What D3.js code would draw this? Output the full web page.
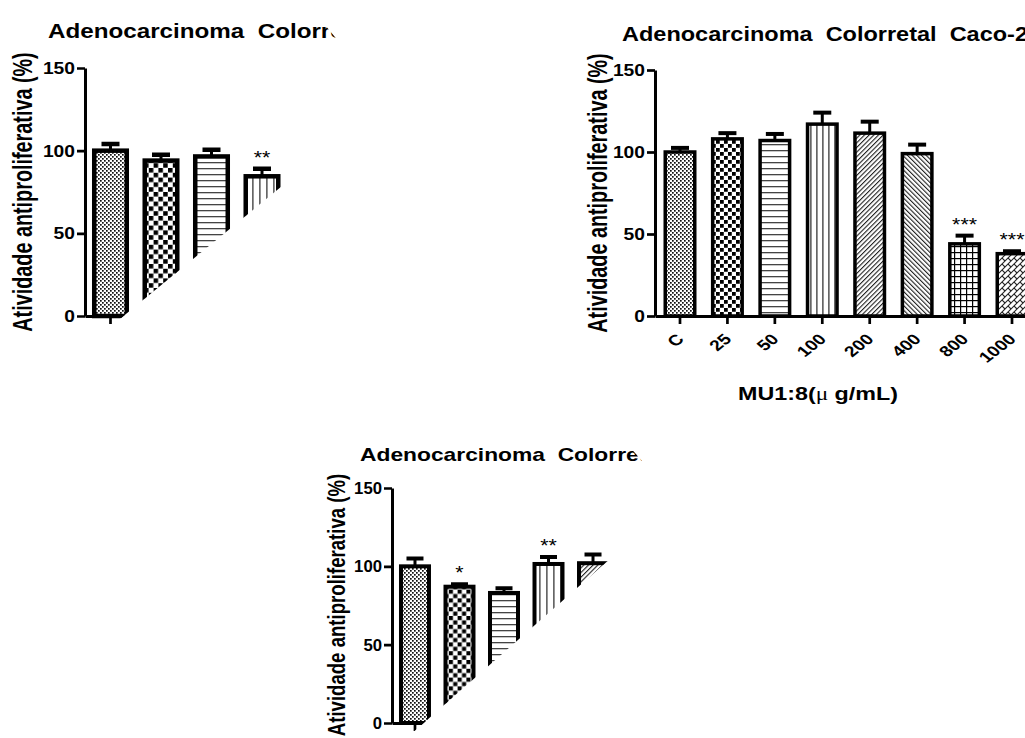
<!DOCTYPE html>
<html><head><meta charset="utf-8">
<script src="https://cdn.jsdelivr.net/npm/d3@7"></script>
<style>
body{margin:0;background:#fff;}
svg{display:block;font-family:"Liberation Sans",Arial,Helvetica,sans-serif;}
text{white-space:pre;}
</style></head><body>
<svg id="chart" width="1025" height="738"></svg>
<script>
// ---------------- data ----------------
const titleText = "Adenocarcinoma  Colorretal  Caco-2";
const yAxisTitle = "Atividade antiproliferativa (%)";
const xTitleStart = "MU1:8(";
const xTitleMu = "\u03bc";
const xTitleEnd = " g/mL)";
const yTicks = [0, 50, 100, 150];
const patternNames = ["fine", "checker", "hlines", "vlines", "diagR", "diagL", "grid", "xhatch"];

// panel A (top left)
const catsA = ["C", "25", "50", "100"];
const meansA = [100, 94, 96.5, 84.5];
const errsA = [4, 3.5, 4, 4.5];
const starsA = ["", "", "", "**"];

// panel B (top right)
const catsB = ["C", "25", "50", "100", "200", "400", "800", "1000"];
const meansB = [100, 108, 107, 117, 111.5, 99, 44, 38];
const errsB = [2.5, 3.5, 4, 7, 7, 5.5, 5, 1.5];
const starsB = ["", "", "", "", "", "", "***", "***"];

// panel C (bottom)
const catsC = ["C", "25", "50", "100", "200"];
const meansC = [100, 87, 83, 101.5, 102];
const errsC = [5, 1.5, 3, 4.5, 5.5];
const starsC = ["", "*", "", "**", ""];

// ---------------- layout ----------------
const layout = {
  A: {cats: catsA, means: meansA, errs: errsA, stars: starsA,
      ax: 85, x1: 287.5, y0: 316, y150: 68, pi: 0.356, po: 0.183,
      bs: 4.5, capW: 18, capT: 4.5, stemW: 3, ps: 1.2,
      clip: [[0,0],[304.6,0],[386.7,100.2],[0,417.3]],
      title: {x: 48, y: 38, len: 418, fs: 19.5},
      ytitle: {x: 32, y: 192, fs: 19.8, sx: 1.35},
      tickCh: 10.7, tickFs: 17, xlabels: false},
  B: {cats: catsB, means: meansB, errs: errsB, stars: starsB,
      ax: 655, x1: 1037, y0: 316, y150: 70, pi: 0.378, po: 0.216,
      bs: 3.5, capW: 18, capT: 4, stemW: 3, ps: 1.0,
      clip: null,
      title: {x: 622, y: 41, len: 406, fs: 19.5},
      ytitle: {x: 607, y: 193, fs: 19.8, sx: 1.35},
      tickCh: 10.7, tickFs: 17, xlabels: true},
  C: {cats: catsC, means: meansC, errs: errsC, stars: starsC,
      ax: 392, x1: 616, y0: 723, y150: 488, pi: 0.371, po: 0.202,
      bs: 4, capW: 17, capT: 4, stemW: 3, ps: 1.1,
      clip: [[300,370],[562,370],[676.6,500.3],[406.6,738],[300,738]],
      title: {x: 360, y: 461, len: 394, fs: 19},
      ytitle: {x: 345, y: 605, fs: 18.6, sx: 1.28},
      tickCh: 9.3, tickFs: 17, xlabels: false}
};

const svg = d3.select("#chart");
const defs = svg.append("defs");

function addPatterns(key, s) {
  const mk = (name, w, h, tr) => {
    const p = defs.append("pattern").attr("id", key + "-" + name)
      .attr("patternUnits", "userSpaceOnUse").attr("width", w).attr("height", h);
    if (tr) p.attr("patternTransform", tr);
    p.append("rect").attr("width", w).attr("height", h).attr("fill", "#fff");
    return p;
  };
  let p = mk("fine", 4, 4);
  p.append("rect").attr("x", 0).attr("y", 0).attr("width", 1.7).attr("height", 1.7).attr("fill", "#111");
  p.append("rect").attr("x", 2).attr("y", 2).attr("width", 1.7).attr("height", 1.7).attr("fill", "#111");
  const T = 8 * s, q = T * 0.47;
  p = mk("checker", T, T);
  p.append("rect").attr("x", 0).attr("y", 0).attr("width", q).attr("height", q).attr("fill", "#000");
  p.append("rect").attr("x", T/2).attr("y", T/2).attr("width", q).attr("height", q).attr("fill", "#000");
  const H = 6;
  p = mk("hlines", 10, H);
  p.append("rect").attr("x", 0).attr("y", 0).attr("width", 10).attr("height", 1.3).attr("fill", "#444");
  const V = Math.round(6 * s);
  p = mk("vlines", V, 10);
  p.append("rect").attr("x", 0).attr("y", 0).attr("width", 1.7).attr("height", 10).attr("fill", "#666");
  p = mk("diagR", 3.3, 10, "rotate(45)");
  p.append("rect").attr("x", 0).attr("y", 0).attr("width", 1.1).attr("height", 10).attr("fill", "#222");
  p = mk("diagL", 3.3, 10, "rotate(-45)");
  p.append("rect").attr("x", 0).attr("y", 0).attr("width", 1.1).attr("height", 10).attr("fill", "#222");
  p = mk("grid", 6, 6);
  p.append("rect").attr("x", 0).attr("y", 0).attr("width", 6).attr("height", 1.2).attr("fill", "#000");
  p.append("rect").attr("x", 0).attr("y", 0).attr("width", 1.2).attr("height", 6).attr("fill", "#000");
  p = mk("xhatch", 6, 6);
  p.append("path").attr("d", "M0,6L6,0M-1,1L1,-1M5,7L7,5").attr("stroke", "#222").attr("stroke-width", 1.1);
  p.append("path").attr("d", "M0,0L3,3").attr("stroke", "#222").attr("stroke-width", 1.1);
}

Object.entries(layout).forEach(([key, L]) => {
  addPatterns(key, L.ps);
  let g = svg.append("g").attr("class", "panel-" + key);
  if (L.clip) {
    defs.append("clipPath").attr("id", "clip-" + key)
      .append("polygon").attr("points", L.clip.map(d => d.join(",")).join(" "));
    g.attr("clip-path", "url(#clip-" + key + ")");
  }

  const x = d3.scaleBand().domain(L.cats).range([L.ax, L.x1])
    .paddingInner(L.pi).paddingOuter(L.po);
  const y = d3.scaleLinear().domain([0, 150]).range([L.y0, L.y150]);

  // title
  g.append("text").attr("x", L.title.x).attr("y", L.title.y)
    .attr("font-size", L.title.fs).attr("font-weight", "bold")
    .attr("textLength", L.title.len).attr("lengthAdjust", "spacingAndGlyphs")
    .text(titleText);

  // y axis title
  g.append("text")
    .attr("transform", `translate(${L.ytitle.x},${L.ytitle.y}) scale(${L.ytitle.sx},1) rotate(-90)`)
    .attr("text-anchor", "middle").attr("font-size", L.ytitle.fs).attr("font-weight", "bold")
    .text(yAxisTitle);

  // bars
  const idx = d3.range(L.cats.length);
  g.selectAll("rect.bar").data(idx).join("rect").attr("class", "bar")
    .attr("x", i => x(L.cats[i])).attr("width", x.bandwidth())
    .attr("y", i => y(L.means[i])).attr("height", i => y(0) - y(L.means[i]))
    .attr("fill", i => `url(#${key}-${patternNames[i]})`)
    .attr("stroke", "#000").attr("stroke-width", L.bs);

  // error bars
  const cx = i => x(L.cats[i]) + x.bandwidth() / 2;
  g.selectAll("line.stem").data(idx).join("line").attr("class", "stem")
    .attr("x1", cx).attr("x2", cx)
    .attr("y1", i => y(L.means[i])).attr("y2", i => y(L.means[i] + L.errs[i]))
    .attr("stroke", "#000").attr("stroke-width", L.stemW);
  g.selectAll("line.cap").data(idx).join("line").attr("class", "cap")
    .attr("x1", i => cx(i) - L.capW / 2).attr("x2", i => cx(i) + L.capW / 2)
    .attr("y1", i => y(L.means[i] + L.errs[i])).attr("y2", i => y(L.means[i] + L.errs[i]))
    .attr("stroke", "#000").attr("stroke-width", L.capT);

  // significance stars
  g.selectAll("text.star").data(idx.filter(i => L.stars[i])).join("text").attr("class", "star")
    .attr("x", cx).attr("y", i => y(L.means[i] + L.errs[i]) - 5)
    .attr("text-anchor", "middle").attr("font-size", 19)
    .attr("textLength", i => L.stars[i].length * 8.3).attr("lengthAdjust", "spacingAndGlyphs")
    .text(i => L.stars[i]);

  // y axis
  const ya = g.append("g").attr("transform", `translate(${L.ax},0)`)
    .call(d3.axisLeft(y).tickValues(yTicks).tickSize(8).tickSizeOuter(0).tickPadding(2));
  ya.select(".domain").attr("stroke-width", 3);
  ya.selectAll(".tick line").attr("stroke-width", 2.7);
  ya.selectAll(".tick text").attr("font-size", L.tickFs).attr("font-weight", "bold")
    .attr("font-family", "Liberation Sans, Arial, sans-serif")
    .attr("fill", "#000")
    .each(function(d) {
      const t = String(d);
      d3.select(this).attr("textLength", t.length * L.tickCh).attr("lengthAdjust", "spacingAndGlyphs");
    });

  // x axis
  const xa = g.append("g").attr("transform", `translate(0,${L.y0})`)
    .call(d3.axisBottom(x).tickSize(8).tickSizeOuter(0).tickFormat(""));
  xa.select(".domain").attr("stroke-width", 3);
  xa.selectAll(".tick line").attr("stroke-width", 2.7);

  if (L.xlabels) {
    g.selectAll("text.xlab").data(L.cats).join("text").attr("class", "xlab")
      .attr("transform", c => `translate(${x(c) + x.bandwidth()/2 + 5},${L.y0 + 24}) scale(1.28,1) rotate(-45)`)
      .attr("text-anchor", "end").attr("font-size", 15).attr("font-weight", "bold")
      .text(c => c);
    const xt = g.append("text").attr("x", 818).attr("y", 400).attr("text-anchor", "middle")
      .attr("font-size", 19).attr("font-weight", "bold")
      .attr("textLength", 160).attr("lengthAdjust", "spacingAndGlyphs");
    xt.append("tspan").text(xTitleStart);
    xt.append("tspan").attr("font-family", "Liberation Serif, DejaVu Serif, serif")
      .attr("font-weight", "normal").text(xTitleMu);
    xt.append("tspan").text(xTitleEnd);
  }
});
</script>
</body></html>
